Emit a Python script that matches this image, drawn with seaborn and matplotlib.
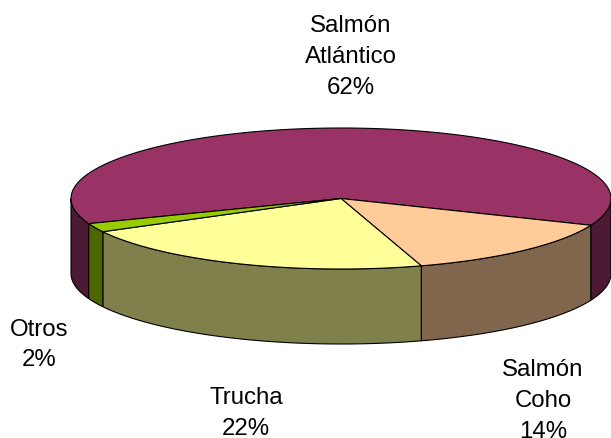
import numpy as np
import matplotlib
matplotlib.use("Agg")
import matplotlib.pyplot as plt
import seaborn as sns

# --- data ---
labels = ["Salmón\nAtlántico", "Salmón\nCoho", "Trucha", "Otros"]
shares = [62, 14, 22, 2]
top_colors = ["#993366", "#FFCC99", "#FFFF99", "#99CC00"]
side_colors = ["#4D1A33", "#80664D", "#80804D", "#4D6600"]
label_pos = [(351, 15), (543, 359), (246, 387.5), (39, 318.5)]

sns.set_theme(style="white")
plt.rcParams["font.family"] = ["Liberation Sans", "DejaVu Sans"]

fig = plt.figure(figsize=(6.11, 4.38), dpi=100)
ax = fig.add_axes([0, 0, 1, 1])
ax.set_xlim(0, 611)
ax.set_ylim(438, 0)
ax.axis("off")

# ellipse geometry of the 3d pie (pixels)
cx, cy, rx, ry, depth = 341, 198.5, 270, 70.5, 75
start = 200.9  # slices run clockwise from here

fracs = np.array(shares) / sum(shares)
bounds = start - 360 * np.concatenate([[0], np.cumsum(fracs)])


def arc(t0, t1, dz=0, n=120):
    t = np.radians(np.linspace(t0, t1, n))
    return cx + rx * np.cos(t), cy - ry * np.sin(t) + dz


# side walls: only the front half (-180..0 deg) is visible
for i in range(len(shares)):
    hi, lo = bounds[i], bounds[i + 1]
    for k in (-1, 0, 1):
        a = max(lo, -180 + 360 * k)
        b = min(hi, 0 + 360 * k)
        if b <= a:
            continue
        xt, yt = arc(b, a)
        xb, yb = arc(a, b, depth)
        xs = np.concatenate([xt, xb])
        ys = np.concatenate([yt, yb])
        ax.fill(xs, ys, facecolor=side_colors[i], edgecolor="black", lw=0.8, zorder=1)

# top faces
for i in range(len(shares)):
    xt, yt = arc(bounds[i], bounds[i + 1])
    xs = np.concatenate([[cx], xt, [cx]])
    ys = np.concatenate([[cy], yt, [cy]])
    ax.fill(xs, ys, facecolor=top_colors[i], edgecolor="black", lw=0.8, zorder=2)

# labels
for lab, val, (x, y) in zip(labels, shares, label_pos):
    ax.text(x, y, f"{lab}\n{val}%", ha="center", va="top", fontsize=17.3,
            color="black", linespacing=1.52, zorder=3)

fig.savefig("out.png", dpi=100)
plt.close(fig)
